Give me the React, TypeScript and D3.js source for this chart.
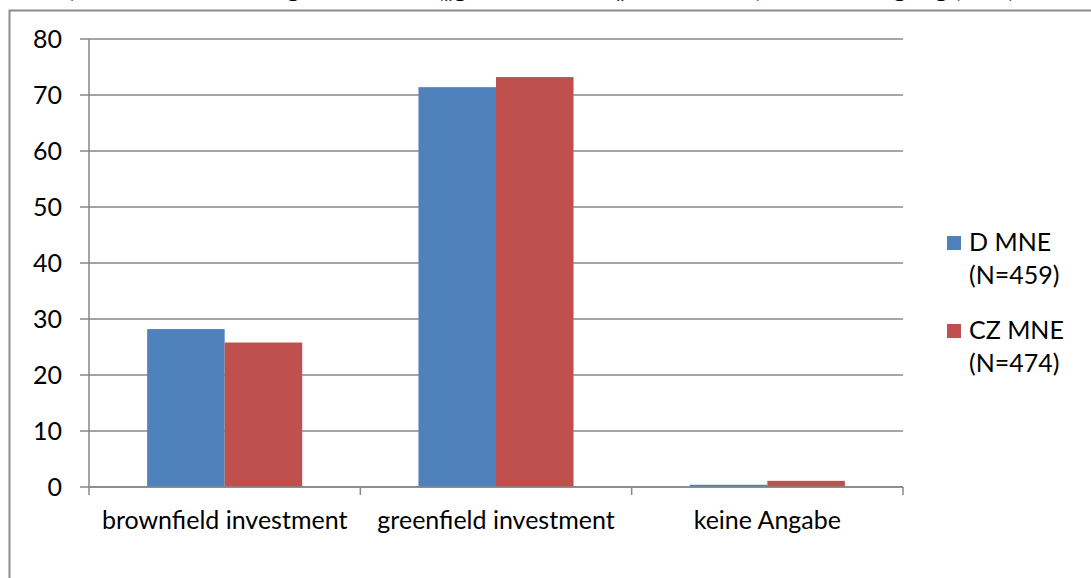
import React, { useRef, useEffect } from 'react';
import * as d3 from 'd3';

const categories = ['brownfield investment', 'greenfield investment', 'keine Angabe'];
const seriesNames = ['D MNE', 'CZ MNE'];
const seriesSizes = ['(N=459)', '(N=474)'];
const dValues = [28.2, 71.4, 0.4];
const czValues = [25.8, 73.2, 1.1];
const yTicks = [0, 10, 20, 30, 40, 50, 60, 70, 80];
const colors = ['#4F81BD', '#C0504D'];
const title = '3) Form der Gründung der Tochter („greenfield“ vs. „brownfield“) nach Eintragung (in %)';

const App = () => {
  const svgRef = useRef<SVGSVGElement>(null);

  useEffect(() => {
    const width = 1091;
    const height = 578;
    const font = 'Lato, Carlito, "Open Sans", sans-serif';
    const fontSize = 25;
    const grid = '#878787';

    const svg = d3.select(svgRef.current).attr('width', width).attr('height', height).html('');

    // title, cut off by the top edge as in the source
    svg.append('text')
      .attr('x', 535)
      .attr('y', -3)
      .attr('text-anchor', 'middle')
      .attr('font-family', font)
      .attr('font-weight', 'bold')
      .attr('font-size', fontSize)
      .attr('fill', '#000')
      .text(title);

    // chart frame
    svg.append('rect')
      .attr('x', 9.5)
      .attr('y', 10.5)
      .attr('width', 1200)
      .attr('height', 700)
      .attr('fill', 'none')
      .attr('stroke', '#8c8c8c')
      .attr('stroke-width', 2);

    const plot = { left: 89, right: 903, top: 39, bottom: 487 };

    const y = d3.scaleLinear().domain([0, 80]).range([plot.bottom, plot.top]);
    const x0 = d3.scaleBand().domain(categories).range([plot.left, plot.right]).paddingInner(0).paddingOuter(0);
    const x1 = d3.scaleBand().domain(seriesNames).range([0, x0.bandwidth()]).paddingInner(0).paddingOuter(0.75);

    const g = svg.append('g');

    // gridlines + y ticks
    g.selectAll('.grid')
      .data(yTicks)
      .enter()
      .append('line')
      .attr('x1', plot.left - 9)
      .attr('x2', plot.right)
      .attr('y1', d => y(d))
      .attr('y2', d => y(d))
      .attr('stroke', grid)
      .attr('stroke-width', 1.5);

    g.selectAll('.ylab')
      .data(yTicks)
      .enter()
      .append('text')
      .attr('x', 62)
      .attr('y', d => y(d) + 8.5)
      .attr('text-anchor', 'end')
      .attr('font-family', font)
      .attr('font-size', fontSize)
      .attr('fill', '#000')
      .text(d => d);

    // y axis
    g.append('line')
      .attr('x1', plot.left)
      .attr('x2', plot.left)
      .attr('y1', plot.top)
      .attr('y2', plot.bottom)
      .attr('stroke', grid)
      .attr('stroke-width', 1.5);

    // bars
    const rows = categories.map((c, i) => ({ cat: c, vals: [dValues[i], czValues[i]] }));
    rows.forEach(r => {
      r.vals.forEach((v, si) => {
        g.append('rect')
          .attr('x', (x0(r.cat) ?? 0) + (x1(seriesNames[si]) ?? 0))
          .attr('y', y(v))
          .attr('width', x1.bandwidth())
          .attr('height', y(0) - y(v))
          .attr('fill', colors[si]);
      });
    });

    // x axis + category ticks
    g.append('line')
      .attr('x1', plot.left)
      .attr('x2', plot.right)
      .attr('y1', plot.bottom)
      .attr('y2', plot.bottom)
      .attr('stroke', grid)
      .attr('stroke-width', 1.5);

    const catEdges = [...categories.map(c => x0(c) ?? 0), plot.right];
    g.selectAll('.xtick')
      .data(catEdges)
      .enter()
      .append('line')
      .attr('x1', d => d)
      .attr('x2', d => d)
      .attr('y1', plot.bottom)
      .attr('y2', plot.bottom + 8)
      .attr('stroke', grid)
      .attr('stroke-width', 1.5);

    g.selectAll('.xlab')
      .data(categories)
      .enter()
      .append('text')
      .attr('x', d => (x0(d) ?? 0) + x0.bandwidth() / 2)
      .attr('y', 529)
      .attr('text-anchor', 'middle')
      .attr('font-family', font)
      .attr('font-size', fontSize)
      .attr('fill', '#000')
      .text(d => d);

    // legend
    const legend = svg.append('g');
    const legendY = [236, 324];
    seriesNames.forEach((name, i) => {
      legend.append('rect')
        .attr('x', 947)
        .attr('y', legendY[i])
        .attr('width', 14)
        .attr('height', 14)
        .attr('fill', colors[i]);
      legend.append('text')
        .attr('x', 969)
        .attr('y', legendY[i] + 15)
        .attr('font-family', font)
        .attr('font-size', fontSize)
        .attr('fill', '#000')
        .text(name);
      legend.append('text')
        .attr('x', 969)
        .attr('y', legendY[i] + 48)
        .attr('font-family', font)
        .attr('font-size', fontSize)
        .attr('fill', '#000')
        .text(seriesSizes[i]);
    });
  }, []);

  return (
    <svg ref={svgRef} style={{ position: 'absolute', left: 0, top: 0, display: 'block', background: '#fff' }}></svg>
  );
};

export default App;
